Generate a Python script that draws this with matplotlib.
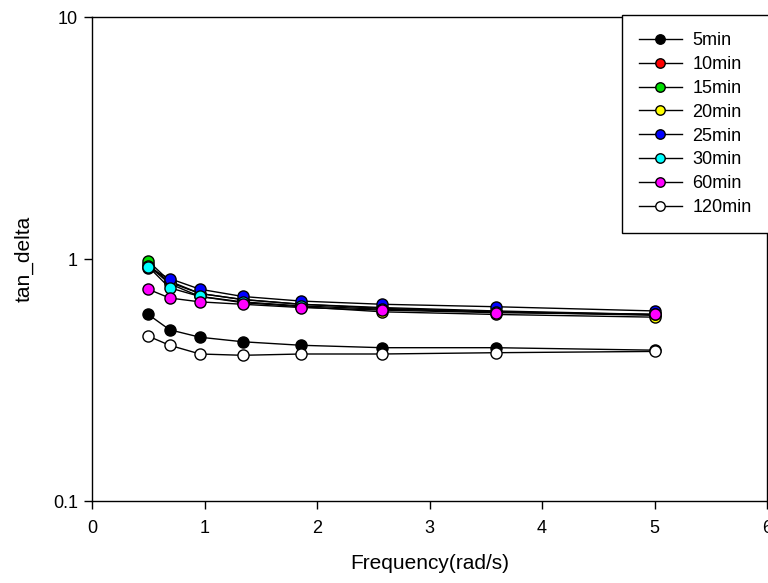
import matplotlib
matplotlib.use("Agg")
import matplotlib.pyplot as plt
from matplotlib.ticker import FixedLocator, FixedFormatter, NullLocator

plt.rcParams['font.family'] = ['Liberation Sans', 'DejaVu Sans']

# frequency (rad/s)
freq = [0.5, 0.69, 0.96, 1.34, 1.86, 2.58, 3.59, 5.0]

labels = ['5min', '10min', '15min', '20min', '25min', '30min', '60min', '120min']
colors = ['black', 'red', '#00dd00', 'yellow', 'blue', 'cyan', 'magenta', 'white']

tan_5 = [0.59, 0.51, 0.475, 0.455, 0.44, 0.43, 0.43, 0.42]
tan_10 = [0.95, 0.80, 0.72, 0.68, 0.65, 0.63, 0.61, 0.59]
tan_15 = [0.98, 0.81, 0.72, 0.68, 0.65, 0.625, 0.605, 0.585]
tan_20 = [0.94, 0.79, 0.70, 0.66, 0.635, 0.605, 0.59, 0.575]
tan_25 = [0.92, 0.83, 0.75, 0.70, 0.67, 0.65, 0.635, 0.61]
tan_30 = [0.93, 0.76, 0.70, 0.665, 0.64, 0.62, 0.605, 0.59]
tan_60 = [0.75, 0.69, 0.665, 0.65, 0.63, 0.615, 0.60, 0.59]
tan_120 = [0.48, 0.44, 0.405, 0.40, 0.405, 0.405, 0.41, 0.415]

series = [tan_5, tan_10, tan_15, tan_20, tan_25, tan_30, tan_60, tan_120]

fig = plt.figure(figsize=(7.68, 5.83), dpi=100)
ax = fig.add_axes([92 / 768, 1 - 501 / 583, 675 / 768, 484 / 583])

for vals, c, lab in zip(series, colors, labels):
    ax.plot(freq, vals, color='black', lw=1, marker='o', ms=8,
            markerfacecolor=c, markeredgecolor='black', markeredgewidth=1,
            label=lab)

ax.set_yscale('log')
ax.set_xlim(0, 6)
ax.set_ylim(0.1, 10)
ax.yaxis.set_major_locator(FixedLocator([0.1, 1, 10]))
ax.yaxis.set_major_formatter(FixedFormatter(['0.1', '1', '10']))
ax.yaxis.set_minor_locator(NullLocator())
ax.set_xticks([0, 1, 2, 3, 4, 5, 6])

ax.tick_params(axis='both', direction='out', length=6, width=1, labelsize=13, pad=8)
ax.tick_params(axis='y', pad=4)
for s in ax.spines.values():
    s.set_linewidth(1)

ax.set_xlabel('Frequency(rad/s)', fontsize=15, labelpad=12)
ax.set_ylabel('tan_delta', fontsize=15, labelpad=14)

leg = ax.legend(loc='upper left', bbox_to_anchor=(622 / 768, 1 - 15 / 583),
                bbox_transform=fig.transFigure, borderaxespad=0,
                fontsize=13, frameon=True,
                fancybox=False, edgecolor='black', framealpha=1,
                handlelength=2.35, handletextpad=0.6, labelspacing=0.38,
                borderpad=0.95, markerscale=0.85)
leg.get_frame().set_linewidth(1)

fig.savefig('out.png', dpi=100)
